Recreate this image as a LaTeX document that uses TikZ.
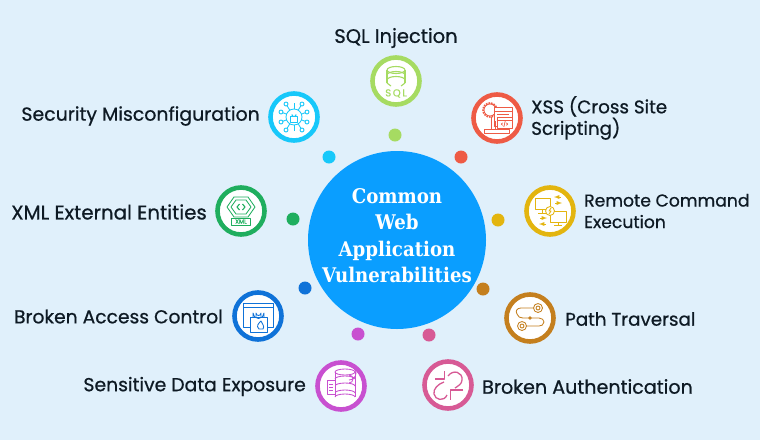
\documentclass[tikz,border=0pt]{standalone}
\usepackage{fontspec}
\setmainfont{Poppins}
\newfontfamily\labelfont{Poppins}[FakeBold=0.7]
\newfontfamily\hubfont{DejaVu Serif Condensed}
\definecolor{skyback}{HTML}{E0F0FB}
\definecolor{hubblue}{HTML}{0A9EFF}
\definecolor{labelink}{HTML}{0E1A24}
\definecolor{sqlcol}{HTML}{A6DB62}
\definecolor{xsscol}{HTML}{EE5B45}
\definecolor{remotecol}{HTML}{E3B50F}
\definecolor{pathcol}{HTML}{C47F1E}
\definecolor{authcol}{HTML}{D75A95}
\definecolor{datacol}{HTML}{C850D0}
\definecolor{accesscol}{HTML}{0F72D8}
\definecolor{xmlcol}{HTML}{1FAE5E}
\definecolor{misconfcol}{HTML}{17C8FA}
\tikzset{
	iconpen/.style={line width=0.85pt, line join=round},
	sqlicon/.pic={
		\begin{scope}[iconpen, line width=1.1pt]
		\draw (0,-11) ellipse (9 and 3.5);
		\draw (-9,-11) -- (-9,2) (9,-11) -- (9,2);
		\draw (-9,-6) arc (180:360:9 and 3.5);
		\draw (-9,-1) arc (180:360:9 and 3.5);
		\draw (-9,2) -- (-5,5) (9,2) -- (5,5);
		\node[inner sep=0pt, font=\labelfont\fontsize{10}{10}\selectfont] (sqltxt) at (0,12.5) {S\,Q\,L};
		\end{scope}
	},
	xssicon/.pic={
		\begin{scope}[iconpen]
		\draw[fill=white] (-7,-8) circle (6);
		\draw[densely dotted, line width=1.6pt] (-7,-8) circle (7);
		\draw[fill=white] (-3,-11) rectangle (15,8);
		\draw (-3,-7) -- (15,-7) (0,-4) -- (12,-4);
		\draw[fill=white] (0,-1) rectangle (15,10);
		\draw (0,2) -- (15,2);
		\node[inner sep=0pt, font=\labelfont\fontsize{5}{5}\selectfont] (xsstxt) at (7.5,6) {</>};
		\draw (-6,-1) -- (-6,11) (-2,3) -- (-2,11);
		\draw (-13,11) rectangle (12,15);
		\end{scope}
	},
	remoteicon/.pic={
		\begin{scope}[iconpen]
		\draw (-15,-13) rectangle (0,-2);
		\draw (-8,-2) -- (-8,2) (-12,2) -- (-4,2);
		\draw (0,0) rectangle (16,11);
		\draw (8,11) -- (8,14) (4,14) -- (12,14);
		\draw[fill=white] (0,0) circle (4.5);
		\draw (1,-3) -- (-1,0) -- (1,0) -- (-1,3);
		\draw[->, >=latex] (11,-14) -- (4,-14);
		\draw[->, >=latex] (5,-8) -- (12,-8);
		\draw[->, >=latex] (-10,7) -- (-3,7);
		\draw[->, >=latex] (-4,13) -- (-11,13);
		\end{scope}
	},
	pathicon/.pic={
		\begin{scope}[iconpen]
		\draw (8,-10) circle (4.5) (8,-10) circle (2);
		\draw (-8,8) circle (4.5) (-8,8) circle (2);
		\draw (3.5,-10) -- (-9,-10) .. controls (-13,-10) and (-15,-7) .. (-13,-4) .. controls (-12,-1) and (-10,0) .. (-7,0) -- (9,0) .. controls (12,0) and (14,2) .. (14,4) .. controls (14,7) and (11,8) .. (9,8) -- (-3.5,8);
		\fill (0,0) circle (1.8);
		\end{scope}
	},
	authicon/.pic={
		\begin{scope}[line width=1.3pt, line join=round]
		\draw (-3.5,-14) -- (-3.5,-6) -- (-13,-6);
		\draw (15,5) -- (2.5,5) -- (2.5,15);
		\draw (0,-9) .. controls (5,-16) and (15,-13) .. (14,-5) .. controls (14,-1) and (10,1) .. (7,3);
		\draw (-4,-3) .. controls (-10,-1) and (-15,4) .. (-14,9) .. controls (-13,15) and (-4,17) .. (-1,10);
		\end{scope}
	},
	dataicon/.pic={
		\begin{scope}[iconpen]
		\draw (4,-14) ellipse (10 and 3);
		\draw (-6,-14) -- (-6,11) (14,-14) -- (14,11);
		\draw (-6,-7) arc (180:360:10 and 3);
		\draw (-6,0) arc (180:360:10 and 3);
		\draw (-6,7) arc (180:360:10 and 3);
		\draw (-6,11) arc (180:360:10 and 3);
		\draw[fill=white] (-14,-6) rectangle (-6,8);
		\draw (-12,-2) -- (-8,-2) (-12,1) -- (-8,1) (-12,4) -- (-8,4);
		\draw (8,-6) arc (90:-90:7);
		\draw (8,-3) arc (90:-90:4);
		\end{scope}
	},
	accessicon/.pic={
		\begin{scope}[iconpen]
		\draw (-15,-13) rectangle (15,11);
		\draw (-15,-9) -- (15,-9);
		\draw[fill=white] (-8,1) rectangle (9,16);
		\draw (-5,1) -- (-5,-3) arc (180:0:5.5) -- (6,1);
		\draw (-2,1) -- (-2,-3) arc (180:0:2.5) -- (3,1);
		\draw (1,13) .. controls (-2,10) and (0,8) .. (3,5) .. controls (4,8) and (7,10) .. (5,13) -- cycle;
		\end{scope}
	},
	xmlicon/.pic={
		\begin{scope}[iconpen]
		\draw (-7,-14) -- (7,-14) -- (14,-4) -- (7,6) -- (-7,6) -- (-14,-4) -- cycle;
		\draw (-5,-11) -- (5,-11) -- (10,-4) -- (5,3) -- (-5,3) -- (-10,-4) -- cycle;
		\draw[line width=1.1pt] (-1.5,-7) -- (-4,-4) -- (-1.5,-1) (1.5,-7) -- (4,-4) -- (1.5,-1);
		\draw[fill=white] (-9.5,7) rectangle (9.5,14);
		\node[inner sep=0pt, font=\labelfont\fontsize{6}{6}\selectfont] (xmltxt) at (0,10.5) {XML};
		\end{scope}
	},
	misconficon/.pic={
		\begin{scope}[iconpen]
		\draw (0,0) circle (8);
		\draw (-3.5,-1) rectangle (3.5,5);
		\draw (-2,-1) -- (-2,-2.5) arc (180:0:2) -- (2,-1);
		\foreach \px/\py in {13/-5,13/5,-13/-5,-13/5,8/-13,-8/-13,8/13,-8/13} {
			\draw (0.55*\px,0.55*\py) -- (\px,\py);
			\draw[fill=white] (\px,\py) circle (2);
		}
		\draw (0,-8) -- (0,-14) (0,8) -- (0,14);
		\end{scope}
	}
}
\begin{document}
\begin{tikzpicture}[
	x=1pt, y=-1pt,
	hub/.style={
		circle,
		fill=hubblue,
		inner sep=0pt,
		minimum size=178pt
	},
	hubtext/.style={
		text=white,
		inner sep=0pt,
		align=center,
		font=\hubfont\bfseries\fontsize{20.2}{26.3}\selectfont
	},
	ring/.style={
		circle,
		draw=#1,
		fill=white,
		line width=4.6pt,
		inner sep=0pt,
		minimum size=47pt
	},
	dot/.style={
		circle,
		fill=#1,
		inner sep=0pt,
		minimum size=13pt
	},
	label/.style={
		text=labelink,
		inner sep=0pt,
		align=left,
		font=\labelfont\fontsize{#1}{21.5}\selectfont
	}
	]
	% background and centre
	\fill[skyback] (0,0) rectangle (760,440);
	\useasboundingbox (0,0) rectangle (760,440);
	\node [hub] (hubnode) at (397,240) {};
	\node [hubtext] (hubtitle) at (397,235.5) {Common\\Web\\Application\\Vulnerabilities};
	
	% small dots round the centre
	\node [dot=sqlcol] (sqldot) at (395,135) {};
	\node [dot=xsscol] (xssdot) at (461,157) {};
	\node [dot=remotecol] (remotedot) at (498,220) {};
	\node [dot=pathcol] (pathdot) at (483,289) {};
	\node [dot=authcol] (authdot) at (429,335) {};
	\node [dot=datacol] (datadot) at (358,334) {};
	\node [dot=accesscol] (accessdot) at (305,288) {};
	\node [dot=xmlcol] (xmldot) at (293,219) {};
	\node [dot=misconfcol] (misconfdot) at (329,157) {};
	
	% icon rings
	\node [ring=sqlcol] (sql) at (396,81) {};
	\node [ring=xsscol] (xss) at (497,118) {};
	\node [ring=remotecol] (remote) at (550,211) {};
	\node [ring=pathcol] (path) at (530,318) {};
	\node [ring=authcol] (auth) at (448,385) {};
	\node [ring=datacol] (data) at (341,386) {};
	\node [ring=accesscol] (access) at (258,316) {};
	\node [ring=xmlcol] (xml) at (241,211) {};
	\node [ring=misconfcol] (misconf) at (294,117) {};
	
	% icons
	\pic [color=sqlcol] at (sql) {sqlicon};
	\pic [color=xsscol] at (xss) {xssicon};
	\pic [color=remotecol] at (remote) {remoteicon};
	\pic [color=pathcol] at (path) {pathicon};
	\pic [color=authcol] at (auth) {authicon};
	\pic [color=datacol] at (data) {dataicon};
	\pic [color=accesscol] at (access) {accessicon};
	\pic [color=xmlcol] at (xml) {xmlicon};
	\pic [color=misconfcol] at (misconf) {misconficon};
	
	% labels
	\node [label=19.5] (sqllabel) at (396,38) {SQL Injection};
	\node [label=18.3, anchor=west] (xsslabel) at (531,118) {XSS (Cross Site\\Scripting)};
	\node [label=17.2, anchor=west] (remotelabel) at (584,211) {Remote Command\\Execution};
	\node [label=18.3, anchor=west] (pathlabel) at (565,319) {Path Traversal};
	\node [label=19.1, anchor=west] (authlabel) at (482,386.5) {Broken Authentication};
	\node [label=18.8, anchor=east] (datalabel) at (306,386.5) {Sensitive Data Exposure};
	\node [label=18.7, anchor=east] (accesslabel) at (223,316.5) {Broken Access Control};
	\node [label=19.8, anchor=east] (xmllabel) at (207,212) {XML External Entities};
	\node [label=18.9, anchor=east] (misconflabel) at (260,116) {Security Misconfiguration};
\end{tikzpicture}
\end{document}
